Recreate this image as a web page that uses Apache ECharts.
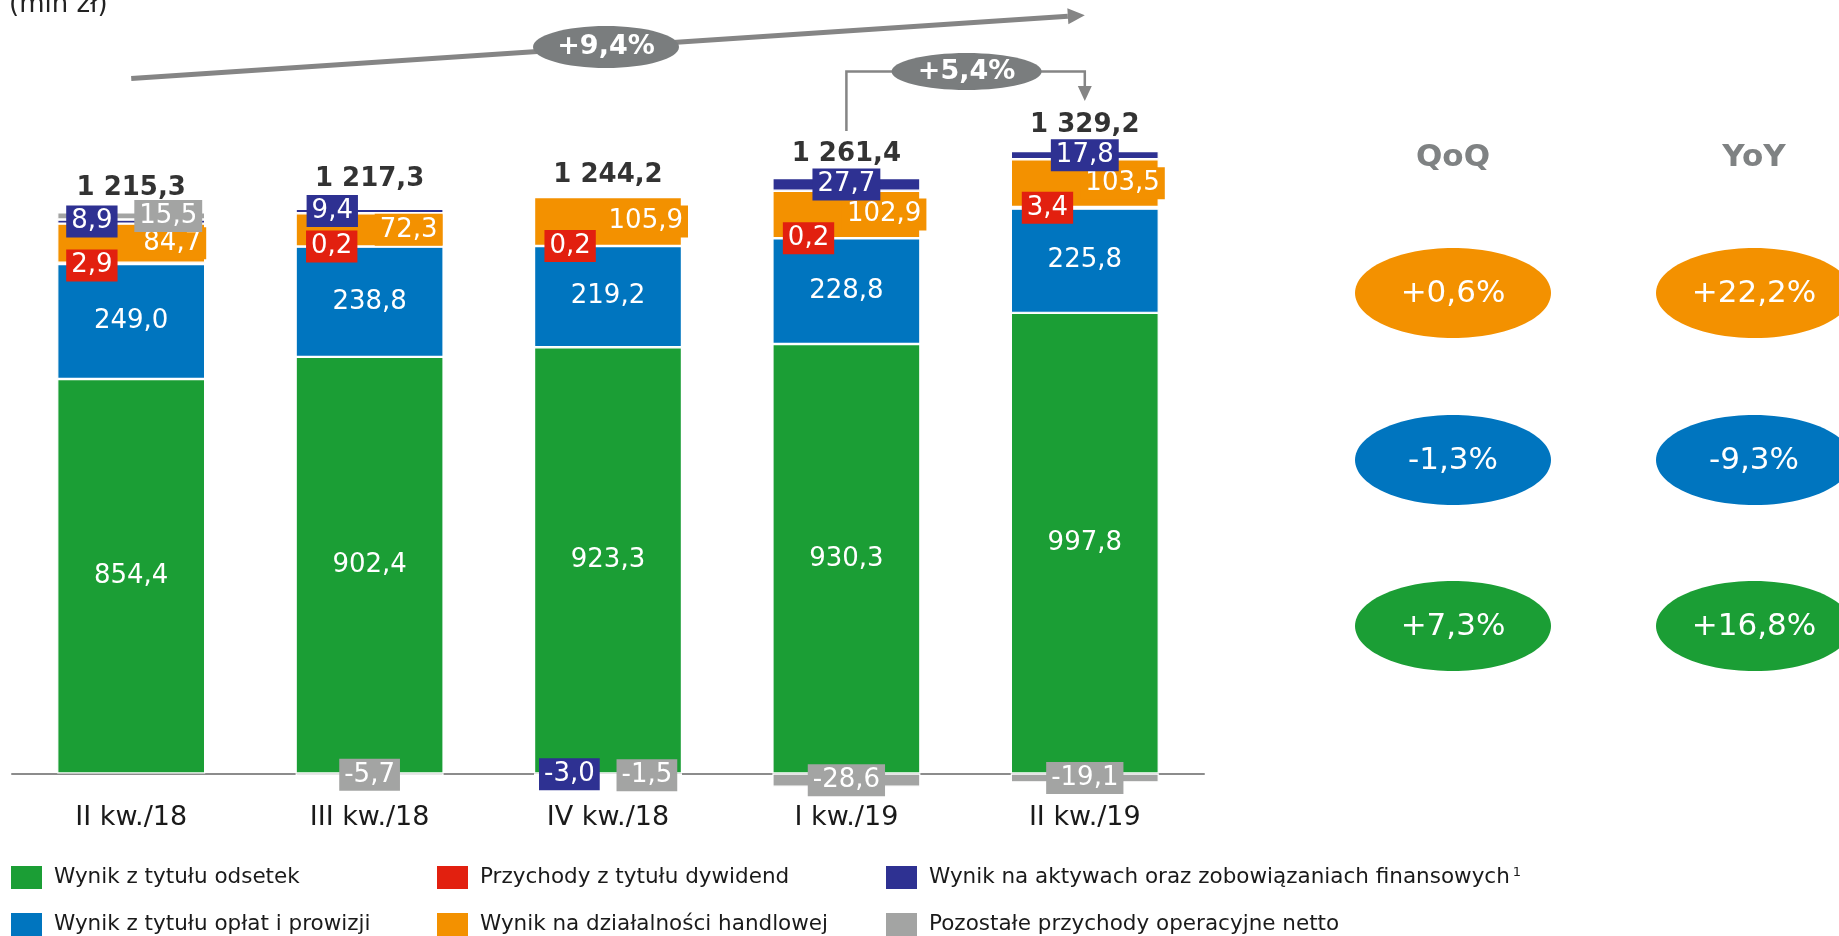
<!DOCTYPE html>
<html>
<head>
<meta charset="utf-8">
<script src="https://cdn.jsdelivr.net/npm/echarts@6/dist/echarts.min.js"></script>
<style>
html,body{margin:0;padding:0;background:#ffffff;}
#c{width:1839px;height:936px;}
</style>
</head>
<body>
<div id="c"></div>
<script>
// ---- data ----
const categories = ['II kw./18', 'III kw./18', 'IV kw./18', 'I kw./19', 'II kw./19'];
const odsetki   = [854.4, 902.4, 923.3, 930.3, 997.8];
const prowizje  = [249.0, 238.8, 219.2, 228.8, 225.8];
const dywidendy = [2.9, 0.2, 0.2, 0.2, 3.4];
const handel    = [84.7, 72.3, 105.9, 102.9, 103.5];
const aktywa    = [8.9, 9.4, -3.0, 27.7, 17.8];
const pozostale = [15.5, -5.7, -1.5, -28.6, -19.1];
const totals    = [1215.3, 1217.3, 1244.2, 1261.4, 1329.2];
const changeYoY = 9.4;
const changeQoQTotal = 5.4;
const qoq = [0.6, -1.3, 7.3];   // handel, prowizje, odsetki
const yoy = [22.2, -9.3, 16.8];

const names = [
  'Wynik z tytułu odsetek',
  'Wynik z tytułu opłat i prowizji',
  'Przychody z tytułu dywidend',
  'Wynik na działalności handlowej',
  'Wynik na aktywach oraz zobowiązaniach finansowych',
  'Pozostałe przychody operacyjne netto'
];

// ---- styles ----
const FONT = 'DejaVu Sans';
const C = {
  green: '#1B9E35', blue: '#0075BF', red: '#E2200F',
  orange: '#F39100', navy: '#2E3192', gray: '#A3A4A3'
};

function fmt(v) {
  const s = Math.abs(v).toFixed(1).split('.');
  const int = s[0].replace(/\B(?=(\d{3})+(?!\d))/g, ' ');
  return (v < 0 ? '-' : '') + int + ',' + s[1];
}
function pct(v) {
  return (v > 0 ? '+' : '') + v.toFixed(1).replace('.', ',') + '%';
}

const defs = [
  { name: names[0], data: odsetki,   color: C.green,  box: false,
    pos: ['inside','inside','inside','inside','inside'], off: [[0,0],[0,0],[0,0],[0,0],[0,0]] },
  { name: names[1], data: prowizje,  color: C.blue,   box: false,
    pos: ['inside','inside','inside','inside','inside'], off: [[0,0],[0,0],[0,0],[0,0],[0,0]] },
  { name: names[2], data: dywidendy, color: C.red,    box: true,
    pos: ['insideLeft','insideLeft','insideLeft','insideLeft','insideLeft'], off: [[4,2],[6,0],[6,0],[6,0],[6,0]] },
  { name: names[3], data: handel,    color: C.orange, box: true,
    pos: ['insideRight','insideRight','insideRight','insideRight','insideRight'], off: [[6,0],[4,0],[11,0],[11,0],[11,0]] },
  { name: names[4], data: aktywa,    color: C.navy,   box: true,
    pos: ['insideLeft','insideLeft','insideLeft','inside','inside'], off: [[4,0],[6,0],[0,0],[0,0],[0,0]] },
  { name: names[5], data: pozostale, color: C.gray,   box: true,
    pos: ['insideRight','inside','insideRight','inside','inside'], off: [[2,0],[0,0],[0,0],[0,0],[0,0]] }
];

const series = defs.map(d => ({
  name: d.name,
  type: 'bar',
  stack: 'total',
  barWidth: 148,
  itemStyle: { color: d.color, borderColor: '#ffffff', borderWidth: 1.2 },
  label: {
    show: true,
    formatter: p => fmt(p.value),
    color: '#ffffff',
    fontSize: 26,
    fontFamily: FONT,
    backgroundColor: d.box ? d.color : 'transparent',
    padding: d.box ? [2, 5] : 0,
    lineHeight: 28,
    distance: 5
  },
  data: d.data.map((v, i) => ({ value: v, label: { position: d.pos[i], offset: d.off[i] } }))
}));

// total labels, placed above the positive part of each stack
const posSum = categories.map((c, i) =>
  defs.reduce((s, d) => s + (d.data[i] > 0 ? d.data[i] : 0), 0));
const totalDist = [11, 16, 8, 10, 12];
series.push({
  name: 'Suma',
  type: 'scatter',
  symbolSize: 1,
  itemStyle: { color: 'rgba(0,0,0,0)' },
  silent: true,
  z: 5,
  label: {
    show: true, position: 'top',
    formatter: p => fmt(totals[p.dataIndex]),
    color: '#000000', fontWeight: 'bold', fontSize: 26, fontFamily: FONT
  },
  data: posSum.map((v, i) => ({ value: v, label: { distance: totalDist[i] } }))
});

const legendBase = {
  orient: 'vertical',
  top: 866,
  padding: 0,
  itemWidth: 31,
  itemHeight: 23,
  itemGap: 24,
  icon: 'rect',
  selectedMode: false,
  itemStyle: { borderWidth: 0 },
  textStyle: {
    fontSize: 21.5, color: '#1a1a1a', fontFamily: FONT, padding: [0, 0, 0, 7],
    rich: { sup: { fontSize: 13, color: '#1a1a1a', fontFamily: FONT, verticalAlign: 'top', padding: [0, 0, 10, 3] } }
  }
};

const chart = echarts.init(document.getElementById('c'));
chart.setOption({
  animation: false,
  backgroundColor: '#ffffff',
  grid: { left: 12, width: 1192, top: 81, height: 711 },
  xAxis: {
    type: 'category',
    data: categories,
    axisLine: { onZero: true, lineStyle: { color: '#8c8c8c', width: 2 } },
    axisTick: { show: false },
    axisLabel: { fontSize: 27, color: '#1a1a1a', fontFamily: FONT, margin: 12 }
  },
  yAxis: {
    type: 'value', min: -40, max: 1500, show: false,
    splitLine: { show: false }
  },
  legend: [
    Object.assign({}, legendBase, { left: 11, data: [names[0], names[1]] }),
    Object.assign({}, legendBase, { left: 437, data: [names[2], names[3]] }),
    Object.assign({}, legendBase, { left: 886, data: [names[4], names[5]],
      formatter: n => n === names[4] ? n + '{sup|1}' : n })
  ],
  series: series
});

// ---- annotations (positions tied to the category axis) ----
const px = i => chart.convertToPixel({ xAxisIndex: 0 }, categories[i]);
const x1 = px(0), x4 = px(3), x5 = px(4);
const LINE = '#858585', ELL = '#7A7D7E', TXT = '#7F8283';

// big arrow
const ay1 = 78.6, ay2 = 15.2;
const dx = x5 - x1, dy = ay2 - ay1, L = Math.hypot(dx, dy);
const ux = dx / L, uy = dy / L;
const hl = 17, hw = 8;
const bx = x5 - ux * hl, by = ay2 - uy * hl;
const midX = 606, midY = ay1 + (midX - x1) * dy / dx;

// bracket arrow
const by0 = 131, byTop = 71.5, tipY = 101;
const e2x = (x4 + x5) / 2 + 1;

const graphics = [
  { type: 'text', left: 9, top: -8, style: { text: '(mln zł)', fontSize: 26, fontFamily: FONT, fill: '#222222' } },
  { type: 'line', shape: { x1: x1, y1: ay1, x2: bx, y2: by }, style: { stroke: LINE, lineWidth: 5 }, z: 10 },
  { type: 'polygon', shape: { points: [[x5, ay2], [bx - uy * hw, by + ux * hw], [bx + uy * hw, by - ux * hw]] }, style: { fill: LINE }, z: 10 },
  { type: 'ellipse', shape: { cx: midX, cy: midY, rx: 73, ry: 21 }, style: { fill: ELL }, z: 11 },
  { type: 'text', x: midX, y: midY, style: { text: pct(changeYoY), fill: '#ffffff', fontSize: 27, fontWeight: 'bold', fontFamily: FONT, align: 'center', verticalAlign: 'middle' }, z: 12 },

  { type: 'polyline', shape: { points: [[x4, by0], [x4, byTop], [x5, byTop], [x5, tipY - 14]] }, style: { stroke: LINE, lineWidth: 2.5, fill: null }, z: 10 },
  { type: 'polygon', shape: { points: [[x5, tipY], [x5 - 7, tipY - 15], [x5 + 7, tipY - 15]] }, style: { fill: LINE }, z: 10 },
  { type: 'ellipse', shape: { cx: e2x, cy: byTop, rx: 75, ry: 18.5 }, style: { fill: ELL }, z: 11 },
  { type: 'text', x: e2x, y: byTop, style: { text: pct(changeQoQTotal), fill: '#ffffff', fontSize: 27, fontWeight: 'bold', fontFamily: FONT, align: 'center', verticalAlign: 'middle' }, z: 12 }
];

// QoQ / YoY panel
const colX = [1453, 1754];
const rowY = [293, 460, 626];
const rowColors = [C.orange, C.blue, C.green];
['QoQ', 'YoY'].forEach((t, c) => {
  graphics.push({ type: 'text', x: colX[c], y: 158, style: { text: t, fill: TXT, fontSize: 31, fontWeight: 'bold', fontFamily: FONT, align: 'center', verticalAlign: 'middle' } });
  const vals = c === 0 ? qoq : yoy;
  vals.forEach((v, r) => {
    graphics.push({ type: 'ellipse', shape: { cx: colX[c], cy: rowY[r], rx: 98, ry: 45 }, style: { fill: rowColors[r] } });
    graphics.push({ type: 'text', x: colX[c], y: rowY[r] + 1, style: { text: pct(v), fill: '#ffffff', fontSize: 31, fontFamily: FONT, align: 'center', verticalAlign: 'middle' }, z: 2 });
  });
});

chart.setOption({ graphic: graphics });
</script>
</body>
</html>
